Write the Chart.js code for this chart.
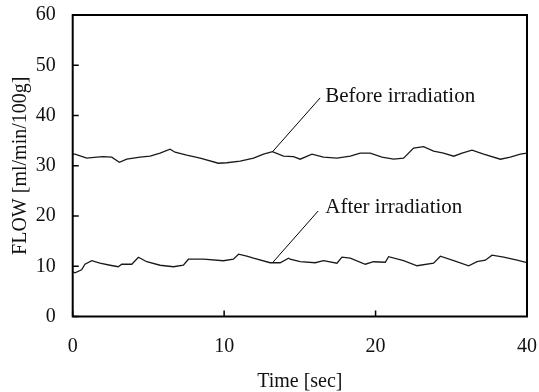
<!DOCTYPE html>
<html>
<head>
<meta charset="utf-8">
<script src="https://cdn.jsdelivr.net/npm/chart.js@4"></script>
<style>
  html, body { margin: 0; padding: 0; background: #fff; }
  #wrap { width: 539px; height: 392px; }
</style>
</head>
<body>
<div id="wrap"><canvas id="flowchart"></canvas></div>
<script>
// x positions are in axis units (ticks evenly spaced, labelled 0, 10, 20, 40)
const xTickLabels = ['0', '10', '20', '40'];
const yTicks = [0, 10, 20, 30, 40, 50, 60];

const beforeTime = [0, 0.15, 0.93, 1.59, 2.0, 2.58, 3.08, 3.57, 4.45, 5.11, 5.77, 6.43, 6.76, 7.53, 8.42, 9.62,
  10.18, 11.06, 11.94, 12.6, 13.19, 13.92, 14.58, 15.02, 15.8, 16.56, 17.45, 18.33, 18.99, 19.65, 20.42,
  21.19, 21.85, 22.51, 23.17, 23.83, 24.49, 25.16, 25.71, 26.37, 27.14, 28.24, 28.9, 29.56, 30];
const beforeFlow = [32.3, 32.3, 31.5, 31.7, 31.8, 31.7, 30.7, 31.3, 31.7, 31.9, 32.5, 33.3, 32.7, 32.1, 31.5, 30.5,
  30.6, 30.9, 31.5, 32.3, 32.8, 31.9, 31.8, 31.3, 32.3, 31.7, 31.5, 31.9, 32.5, 32.5, 31.7,
  31.3, 31.5, 33.5, 33.8, 32.9, 32.5, 31.9, 32.5, 33.1, 32.3, 31.3, 31.7, 32.3, 32.5];

const afterTime = [0, 0.15, 0.59, 0.81, 1.26, 1.8, 2.47, 3.01, 3.24, 3.9, 4.34, 4.89, 5.77, 6.65, 7.31, 7.64,
  8.63, 9.95, 10.61, 10.95, 11.5, 11.94, 13.04, 13.7, 14.25, 14.36, 15.02, 16.01, 16.56, 17.45, 17.78,
  18.33, 19.32, 19.87, 20.64, 20.86, 21.85, 22.74, 23.83, 24.28, 25.16, 26.15, 26.7, 27.25, 27.69,
  28.46, 29.35, 30];
const afterFlow = [8.9, 8.7, 9.3, 10.4, 11.1, 10.6, 10.2, 9.9, 10.4, 10.4, 11.8, 10.9, 10.2, 9.9, 10.2, 11.4,
  11.4, 11.1, 11.4, 12.4, 12.0, 11.6, 10.7, 10.7, 11.6, 11.4, 10.9, 10.7, 11.1, 10.6, 11.8,
  11.6, 10.4, 10.9, 10.8, 11.9, 11.1, 10.1, 10.6, 12.0, 11.1, 10.1, 10.9, 11.2, 12.2,
  11.8, 11.2, 10.7];

const notes = [
  { text: 'Before irradiation', from: [13.2, 32.8], to: [16.34, 43.5], at: [16.68, 43.7] },
  { text: 'After irradiation', from: [13.24, 10.85], to: [16.21, 21.0], at: [16.68, 21.6] }
];

const serif = '"Liberation Serif", "Times New Roman", serif';

const toPoints = (xs, ys) => xs.map((x, i) => ({ x: x, y: ys[i] }));

// box, inward ticks and the two labelled leader lines
const frameAndNotes = {
  id: 'frameAndNotes',
  afterDatasetsDraw(chart) {
    const { ctx, chartArea: a, scales: { x, y } } = chart;
    ctx.save();
    ctx.strokeStyle = '#000';
    ctx.lineWidth = 2;
    ctx.strokeRect(a.left, a.top, a.right - a.left, a.bottom - a.top);

    ctx.lineWidth = 1.5;
    ctx.beginPath();
    y.ticks.forEach(t => {
      const py = y.getPixelForValue(t.value);
      ctx.moveTo(a.left, py);
      ctx.lineTo(a.left + 6, py);
    });
    x.ticks.forEach(t => {
      const px = x.getPixelForValue(t.value);
      ctx.moveTo(px, a.bottom);
      ctx.lineTo(px, a.bottom - 6);
    });
    ctx.stroke();

    ctx.lineWidth = 1;
    ctx.fillStyle = '#111';
    ctx.font = '21px ' + serif;
    ctx.textBaseline = 'middle';
    ctx.textAlign = 'left';
    notes.forEach(n => {
      ctx.beginPath();
      ctx.moveTo(x.getPixelForValue(n.from[0]), y.getPixelForValue(n.from[1]));
      ctx.lineTo(x.getPixelForValue(n.to[0]), y.getPixelForValue(n.to[1]));
      ctx.stroke();
      ctx.fillText(n.text, x.getPixelForValue(n.at[0]), y.getPixelForValue(n.at[1]));
    });
    ctx.restore();
  }
};

const ctx = document.getElementById('flowchart').getContext('2d');

new Chart(ctx, {
  type: 'line',
  data: {
    datasets: [{
      label: 'Before irradiation',
      data: toPoints(beforeTime, beforeFlow),
      borderColor: '#1a1a1a',
      borderWidth: 1.3,
      pointRadius: 0,
      tension: 0
    }, {
      label: 'After irradiation',
      data: toPoints(afterTime, afterFlow),
      borderColor: '#1a1a1a',
      borderWidth: 1.3,
      pointRadius: 0,
      tension: 0
    }]
  },
  options: {
    responsive: true,
    maintainAspectRatio: false,
    animation: false,
    layout: { padding: { top: 15, right: 12, left: 0, bottom: 0 } },
    scales: {
      x: {
        type: 'linear',
        min: 0,
        max: 30,
        grid: { display: false, drawTicks: false },
        border: { display: false },
        ticks: {
          stepSize: 10,
          color: '#111',
          padding: 18,
          maxRotation: 0,
          font: { family: serif, size: 20 },
          callback: (v, i) => xTickLabels[i]
        },
        title: {
          display: true,
          text: 'Time [sec]',
          color: '#111',
          font: { family: serif, size: 20 },
          padding: { top: 0, bottom: -2 }
        },
        afterFit: s => { s.height = 75.5; s.paddingLeft = 0; s.paddingRight = 0; }
      },
      y: {
        min: 0,
        max: 60,
        grid: { display: false, drawTicks: false },
        border: { display: false },
        afterBuildTicks: s => { s.ticks = yTicks.map(v => ({ value: v })); },
        ticks: {
          color: '#111',
          padding: 17,
          font: { family: serif, size: 20 }
        },
        title: {
          display: true,
          text: 'FLOW [ml/min/100g]',
          color: '#111',
          font: { family: serif, size: 20 },
          padding: { top: 9, bottom: 0 }
        },
        afterFit: s => { s.width = 72.7; s.paddingTop = 0; s.paddingBottom = 0; }
      }
    },
    plugins: {
      legend: { display: false },
      tooltip: { enabled: false }
    }
  },
  plugins: [frameAndNotes]
});
</script>
</body>
</html>
